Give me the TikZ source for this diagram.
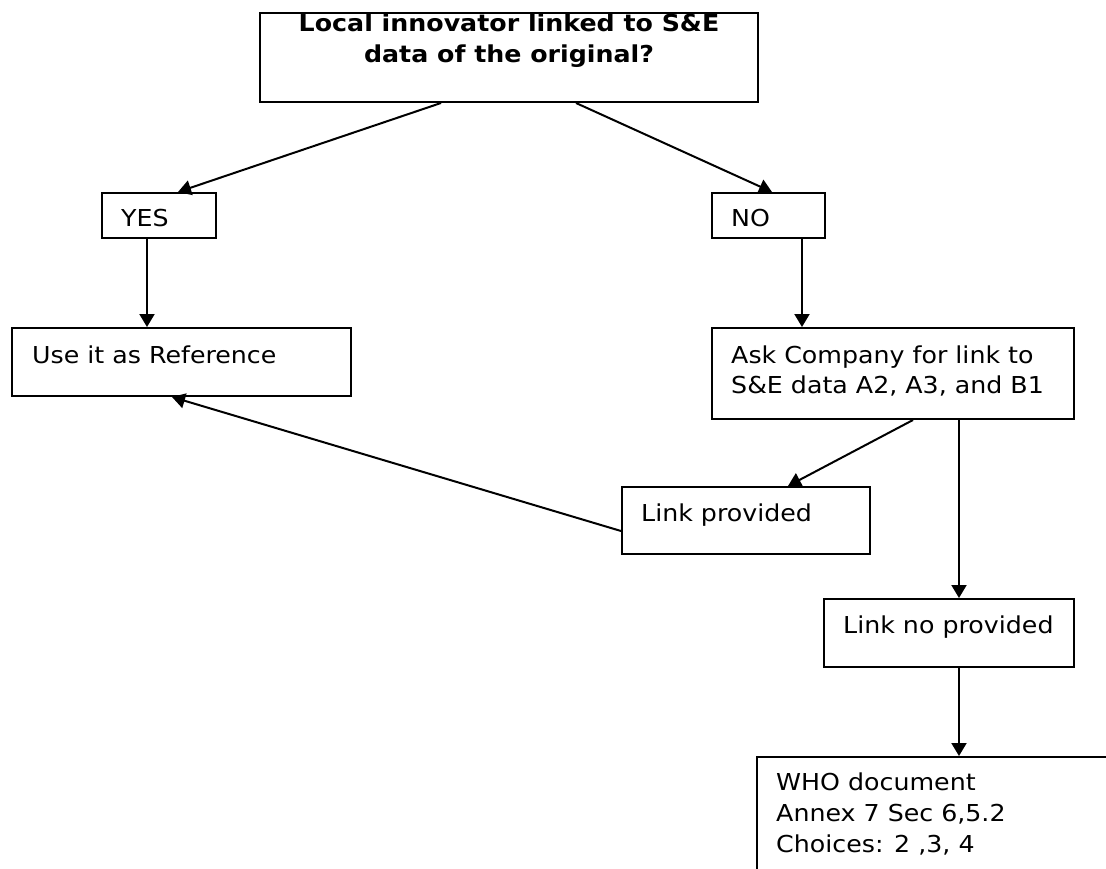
\documentclass[tikz,border=0pt]{standalone}
\usepackage{fontspec}
\setmainfont{DejaVu Sans}[FakeStretch=1.085]
\usetikzlibrary{arrows.meta}
\newcommand{\lines}[1]{\begin{tabular}[t]{@{}l@{}}#1\end{tabular}}
\newcommand{\clines}[1]{\begin{tabular}[t]{@{}c@{}}#1\end{tabular}}
\tikzset{
  box/.style={draw, line width=2pt, anchor=north west, inner sep=0pt},
  txt/.style={anchor=base west, inner sep=0pt, font=\fontsize{23.3}{30}\selectfont},
  arr/.style={line width=2pt, -{Triangle[width=15pt,length=13pt]}}
}
\begin{document}
\begin{tikzpicture}[x=1pt,y=-1pt]
\useasboundingbox (0,0) rectangle (1106,869);
\clip (0,0) rectangle (1106,869);
% boxes
\node[box, minimum width=498, minimum height=89] (q) at (259,12) {};
\node[box, minimum width=114, minimum height=45] (yes) at (101,192) {};
\node[box, minimum width=113, minimum height=45] (no) at (711,192) {};
\node[box, minimum width=339, minimum height=68] (use) at (11,327) {};
\node[box, minimum width=362, minimum height=91] (ask) at (711,327) {};
\node[box, minimum width=248, minimum height=67] (lp) at (621,486) {};
\node[box, minimum width=250, minimum height=68] (lnp) at (823,598) {};
\node[box, minimum width=400, minimum height=200] (who) at (756,756) {};
% texts
\node[anchor=base, inner sep=0pt, font=\fontsize{23.3}{31}\selectfont\bfseries] (qt) at ([yshift=-20]q.north) {\clines{Local innovator linked to S\&E\\data of the original?}};
\node[txt] (yest) at ([xshift=20,yshift=-35]yes.north west) {YES};
\node[txt] (not) at ([xshift=20,yshift=-35]no.north west) {NO};
\node[txt] (uset) at ([xshift=21,yshift=-36]use.north west) {Use it as Reference};
\node[txt] (askt) at ([xshift=20,yshift=-36]ask.north west) {\lines{Ask Company for link to\\S\&E data A2, A3, and B1}};
\node[txt] (lpt) at ([xshift=20,yshift=-35]lp.north west) {Link provided};
\node[txt] (lnpt) at ([xshift=20,yshift=-35]lnp.north west) {Link no provided};
\node[txt, font=\fontsize{23.3}{31}\selectfont] (whot) at ([xshift=20,yshift=-34]who.north west) {\lines{WHO document\\Annex 7 Sec 6,5.2\\Choices: 2 ,3, 4}};
% connectors
\draw[arr] ([xshift=-68]q.south) -- ([xshift=77]yes.north west);
\draw[arr] ([xshift=67]q.south) -- ([xshift=61]no.north west);
\draw[arr] ([xshift=46]yes.south west) -- ([xshift=46]yes.south west |- use.north);
\draw[arr] ([xshift=91]no.south west) -- ([xshift=91]no.south west |- ask.north);
\draw[arr] ([xshift=202]ask.south west) -- ([xshift=167]lp.north west);
\draw[arr] ([xshift=248]ask.south west) -- ([xshift=248]ask.south west |- lnp.north);
\draw[arr] ([yshift=-45]lp.north west) -- ([xshift=161]use.south west);
\draw[arr] ([xshift=136]lnp.south west) -- ([xshift=136]lnp.south west |- who.north);
\end{tikzpicture}
\end{document}
